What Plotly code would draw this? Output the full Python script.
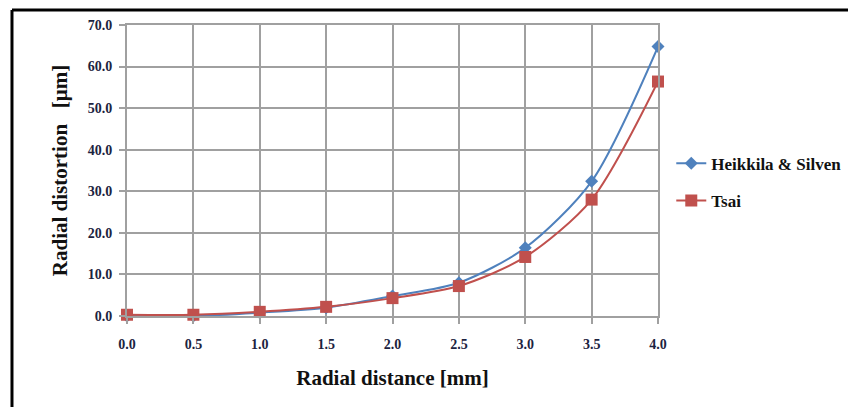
import plotly.graph_objects as go

x_vals = [0.0, 0.5, 1.0, 1.5, 2.0, 2.5, 3.0, 3.5, 4.0]
heikkila = [0.0, 0.0, 0.8, 2.0, 4.8, 8.0, 16.4, 32.4, 64.8]
tsai = [0.3, 0.3, 1.0, 2.2, 4.3, 7.2, 14.2, 28.0, 56.4]
x_ticks = [0.0, 0.5, 1.0, 1.5, 2.0, 2.5, 3.0, 3.5, 4.0]
y_ticks = [0, 10, 20, 30, 40, 50, 60, 70]

serif = "Liberation Serif"
grid = "#a0a0a0"

fig = go.Figure()
fig.add_trace(go.Scatter(
    x=x_vals, y=heikkila, name="<b>Heikkila & Silven</b>", mode="lines+markers",
    line=dict(color="#4F81BD", width=2, shape="spline", smoothing=0.8),
    marker=dict(symbol="diamond", size=10, color="#4F81BD"),
    cliponaxis=False, legendgroup="a"))
fig.add_trace(go.Scatter(
    x=x_vals, y=tsai, name="<b>Tsai</b>", mode="lines+markers",
    line=dict(color="#C0504D", width=2, shape="spline", smoothing=0.8),
    marker=dict(symbol="square", size=12, color="#C0504D"),
    cliponaxis=False, legendgroup="b"))

fig.update_layout(
    width=848, height=399,
    font=dict(family=serif),
    margin=dict(l=119, r=198, t=17, b=91, autoexpand=False),
    paper_bgcolor="white", plot_bgcolor="white",
    showlegend=True,
    legend=dict(x=1.025, y=0.585, xanchor="left", yanchor="top",
                font=dict(family=serif, size=17, color="#111"),
                tracegroupgap=12, itemwidth=30, bgcolor="rgba(0,0,0,0)"),
    xaxis=dict(range=[0, 4], tickvals=x_ticks, tickformat=".1f",
               showgrid=True, gridcolor=grid, gridwidth=2,
               showline=True, linecolor=grid, linewidth=2, mirror=True,
               ticks="outside", ticklen=6, tickwidth=2, tickcolor=grid,
               ticklabelstandoff=8,
               tickfont=dict(family=serif, size=14, color="#1c2340", weight="bold"),
               zeroline=False,
               title=dict(text="<b>Radial distance [mm]</b>", standoff=20,
                          font=dict(family=serif, size=21, color="#111"))),
    yaxis=dict(range=[0, 70], tickvals=y_ticks, tickformat=".1f",
               showgrid=True, gridcolor=grid, gridwidth=2,
               showline=True, linecolor=grid, linewidth=2, mirror=True,
               ticks="outside", ticklen=6, tickwidth=2, tickcolor=grid,
               ticklabelstandoff=4,
               tickfont=dict(family=serif, size=14, color="#1c2340", weight="bold"),
               zeroline=False,
               title=dict(text="<b>Radial distortion&nbsp;&nbsp;&nbsp;[μm]</b>", standoff=14,
                          font=dict(family=serif, size=21, color="#111"))),
)

# outer frame (left and top edges)
fig.add_shape(type="line", xref="paper", yref="paper",
              x0=-0.2166, x1=1.40, y0=1.0515, y1=1.0515,
              line=dict(color="black", width=3))
fig.add_shape(type="line", xref="paper", yref="paper",
              x0=-0.2166, x1=-0.2166, y0=1.0515, y1=-0.35,
              line=dict(color="black", width=3))

fig.write_html("out.html")
